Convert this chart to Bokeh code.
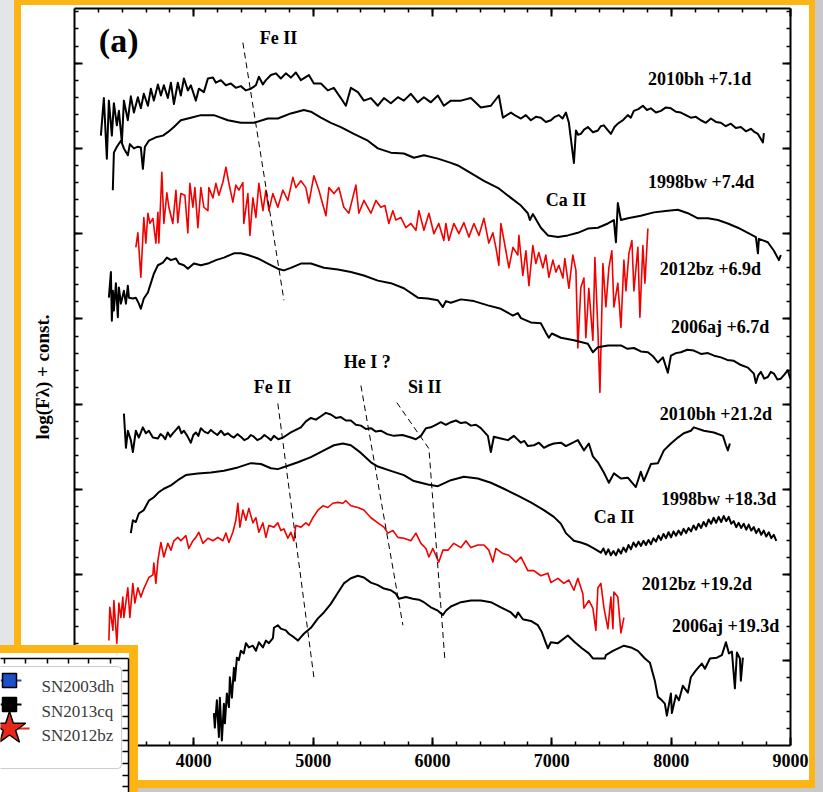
import math

from bokeh.core.properties import value
from bokeh.embed import file_html
from bokeh.models import (BoxAnnotation, CustomJSTickFormatter, FixedTicker, LinearAxis,
                          Range1d)
from bokeh.plotting import figure
from bokeh.resources import INLINE

# ---------------------------------------------------------------------------
# Spectra: (wavelength [A], log F_lambda + offset)
# ---------------------------------------------------------------------------
sn2010bh_p7 = [
    (3221, 7.15), (3246, 7.59), (3271, 6.88), (3288, 7.56), (3313, 7.15), (3330, 7.53),
    (3355, 7.27), (3372, 7.44), (3397, 7.07), (3414, 7.56), (3447, 7.33), (3472, 7.61),
    (3498, 7.42), (3531, 7.60), (3556, 7.47), (3581, 7.64), (3615, 7.50), (3640, 7.70),
    (3665, 7.56), (3699, 7.75), (3724, 7.62), (3749, 7.74), (3782, 7.59), (3808, 7.77),
    (3833, 7.52), (3866, 7.77), (3891, 7.62), (3917, 7.82), (3950, 7.68), (3975, 7.74),
    (4017, 7.56), (4042, 7.70), (4084, 7.66), (4118, 7.82), (4160, 7.83), (4185, 7.77),
    (4227, 7.80), (4268, 7.74), (4310, 7.76), (4352, 7.71), (4394, 7.73), (4436, 7.68),
    (4478, 7.70), (4520, 7.74), (4545, 7.84), (4579, 7.75), (4604, 7.80), (4646, 7.86),
    (4688, 7.88), (4729, 7.82), (4771, 7.88), (4813, 7.83), (4855, 7.89), (4897, 7.80),
    (4964, 7.86), (5006, 7.76), (5065, 7.76), (5123, 7.68), (5173, 7.71), (5232, 7.59),
    (5274, 7.50), (5316, 7.71), (5375, 7.66), (5425, 7.56), (5484, 7.59), (5542, 7.50),
    (5593, 7.59), (5651, 7.53), (5710, 7.60), (5760, 7.56), (5819, 7.64), (5877, 7.54),
    (5928, 7.60), (5986, 7.54), (6045, 7.62), (6095, 7.50), (6154, 7.56), (6238, 7.56),
    (6322, 7.59), (6405, 7.48), (6489, 7.50), (6556, 7.62), (6590, 7.36), (6657, 7.42),
    (6700, 7.38), (6741, 7.35), (6782, 7.39), (6824, 7.33), (6866, 7.37), (6908, 7.36),
    (6950, 7.31), (6992, 7.33), (7025, 7.37), (7059, 7.39), (7090, 7.35), (7118, 7.42),
    (7143, 7.30), (7185, 6.83), (7202, 7.21), (7220, 7.16), (7243, 7.17), (7270, 7.22),
    (7302, 7.25), (7345, 7.19), (7386, 7.21), (7410, 7.26), (7436, 7.27), (7465, 7.22),
    (7495, 7.17), (7525, 7.25), (7553, 7.29), (7595, 7.33), (7637, 7.39), (7662, 7.36),
    (7687, 7.44), (7725, 7.46), (7763, 7.50), (7797, 7.45), (7830, 7.47), (7872, 7.42),
    (7914, 7.44), (7956, 7.48), (7998, 7.47), (8040, 7.43), (8081, 7.42), (8123, 7.39),
    (8165, 7.36), (8207, 7.37), (8249, 7.33), (8291, 7.30), (8333, 7.35), (8375, 7.31),
    (8417, 7.30), (8458, 7.26), (8500, 7.29), (8542, 7.24), (8584, 7.25), (8626, 7.20),
    (8668, 7.23), (8700, 7.19), (8727, 7.17), (8769, 7.07), (8777, 7.18),
]

sn1998bw_p7 = [
    (3321, 6.51), (3330, 6.95), (3355, 7.02), (3389, 7.09), (3414, 7.00), (3447, 6.92),
    (3464, 7.05), (3498, 7.00), (3531, 7.02), (3556, 7.01), (3573, 6.76), (3590, 7.02),
    (3623, 7.09), (3682, 7.13), (3741, 7.15), (3782, 7.19), (3833, 7.25), (3891, 7.33),
    (3975, 7.36), (4059, 7.39), (4168, 7.39), (4285, 7.33), (4394, 7.30), (4503, 7.30),
    (4620, 7.35), (4704, 7.35), (4813, 7.41), (4922, 7.45), (4981, 7.43), (5065, 7.36),
    (5148, 7.30), (5232, 7.25), (5341, 7.17), (5458, 7.09), (5542, 7.00), (5651, 6.95),
    (5760, 6.94), (5844, 6.89), (5928, 6.92), (6045, 6.88), (6154, 6.83), (6213, 6.80),
    (6322, 6.71), (6431, 6.62), (6556, 6.53), (6657, 6.42), (6741, 6.33), (6799, 6.24),
    (6816, 6.16), (6841, 6.23), (6908, 6.07), (6967, 5.98), (7051, 5.96), (7134, 5.98),
    (7218, 6.01), (7302, 6.06), (7386, 6.07), (7470, 6.12), (7520, 6.16), (7537, 5.90),
    (7553, 6.36), (7579, 6.16), (7637, 6.18), (7746, 6.21), (7855, 6.25), (7972, 6.27),
    (8056, 6.28), (8140, 6.24), (8224, 6.18), (8308, 6.18), (8392, 6.16), (8475, 6.12),
    (8559, 6.07), (8643, 6.01), (8710, 5.96), (8727, 5.77), (8735, 5.94), (8810, 5.90),
    (8861, 5.80), (8903, 5.69), (8919, 5.75),
]

sn2012bz_p7 = [
    (3514, 5.84), (3531, 6.01), (3556, 5.49), (3581, 6.19), (3598, 5.89), (3615, 6.24),
    (3632, 6.12), (3657, 6.18), (3682, 5.89), (3699, 6.25), (3707, 5.89), (3732, 6.72),
    (3749, 6.12), (3774, 6.48), (3791, 6.31), (3824, 6.12), (3850, 6.51), (3866, 6.13),
    (3891, 6.47), (3925, 6.45), (3950, 6.01), (3967, 6.59), (3992, 6.31), (4009, 6.54),
    (4034, 6.07), (4059, 6.54), (4084, 6.31), (4118, 6.27), (4126, 6.54), (4160, 6.42),
    (4185, 6.59), (4210, 6.45), (4243, 6.60), (4269, 6.78), (4294, 6.59), (4327, 6.37),
    (4352, 6.57), (4377, 6.51), (4411, 6.60), (4419, 6.12), (4453, 6.47), (4470, 5.98),
    (4495, 6.42), (4520, 6.19), (4545, 6.59), (4579, 6.27), (4604, 6.51), (4629, 6.27),
    (4662, 6.47), (4704, 6.31), (4746, 6.51), (4788, 6.39), (4830, 6.66), (4855, 6.54),
    (4897, 6.62), (4939, 6.54), (4964, 6.36), (5006, 6.68), (5048, 6.51), (5107, 6.21),
    (5132, 6.54), (5174, 6.47), (5215, 6.54), (5257, 6.31), (5299, 6.24), (5358, 6.57),
    (5383, 6.24), (5425, 6.39), (5484, 6.24), (5526, 6.39), (5567, 6.31), (5601, 6.33),
    (5634, 6.12), (5668, 6.27), (5693, 6.16), (5735, 6.19), (5777, 6.07), (5819, 6.12),
    (5861, 6.04), (5886, 6.27), (5928, 6.04), (5970, 6.24), (6012, 6.00), (6053, 6.12),
    (6095, 5.92), (6112, 6.12), (6137, 5.92), (6179, 6.12), (6221, 6.00), (6263, 6.13),
    (6305, 5.96), (6347, 6.12), (6389, 5.98), (6431, 6.18), (6472, 5.89), (6506, 6.01),
    (6531, 5.84), (6556, 5.63), (6573, 6.12), (6615, 5.80), (6640, 5.60), (6674, 5.84),
    (6715, 5.75), (6724, 5.98), (6757, 5.51), (6783, 5.80), (6808, 5.39), (6841, 5.86),
    (6866, 5.65), (6891, 5.78), (6925, 5.60), (6950, 5.75), (6975, 5.49), (7009, 5.69),
    (7034, 5.55), (7059, 5.63), (7093, 5.48), (7109, 5.71), (7143, 5.36), (7176, 5.75),
    (7202, 5.57), (7218, 4.66), (7243, 5.37), (7269, 5.48), (7285, 4.78), (7310, 5.36),
    (7344, 4.75), (7361, 5.72), (7386, 4.87), (7403, 4.14), (7428, 5.65), (7453, 5.14),
    (7478, 5.60), (7503, 5.80), (7520, 5.14), (7553, 5.42), (7579, 4.90), (7604, 5.69),
    (7621, 5.33), (7646, 5.77), (7671, 5.92), (7688, 5.33), (7721, 5.84), (7738, 5.02),
    (7763, 5.86), (7780, 5.42), (7805, 6.06),
]

sn2006aj_p7 = [
    (3288, 5.25), (3305, 5.55), (3313, 4.98), (3322, 5.33), (3330, 5.10), (3347, 5.42),
    (3363, 5.02), (3372, 5.37), (3389, 5.18), (3414, 5.33), (3431, 5.18), (3447, 5.39),
    (3456, 5.25), (3489, 5.24), (3514, 5.25), (3539, 5.18), (3556, 5.12), (3581, 5.24),
    (3615, 5.31), (3640, 5.42), (3665, 5.53), (3699, 5.63), (3741, 5.66), (3774, 5.72),
    (3808, 5.69), (3850, 5.71), (3875, 5.65), (3917, 5.63), (3950, 5.59), (4000, 5.65),
    (4059, 5.63), (4118, 5.65), (4185, 5.69), (4252, 5.72), (4336, 5.77), (4394, 5.77),
    (4453, 5.75), (4537, 5.71), (4620, 5.65), (4704, 5.59), (4755, 5.57), (4813, 5.60),
    (4897, 5.65), (4981, 5.65), (5090, 5.60), (5207, 5.58), (5316, 5.55), (5425, 5.51),
    (5542, 5.45), (5651, 5.42), (5760, 5.36), (5877, 5.25), (5961, 5.24), (6045, 5.22),
    (6087, 5.14), (6112, 5.21), (6154, 5.19), (6238, 5.23), (6347, 5.21), (6464, 5.16),
    (6573, 5.12), (6674, 5.04), (6715, 5.07), (6741, 5.01), (6824, 4.96), (6908, 4.95),
    (6950, 4.84), (6975, 4.78), (7000, 4.83), (7076, 4.78), (7185, 4.75), (7302, 4.71),
    (7344, 4.61), (7386, 4.67), (7470, 4.69), (7579, 4.69), (7634, 4.65), (7688, 4.66),
    (7746, 4.62), (7805, 4.61), (7850, 4.56), (7889, 4.49), (7931, 4.55), (7972, 4.37),
    (7998, 4.57), (8040, 4.60), (8081, 4.61), (8135, 4.64), (8190, 4.63), (8250, 4.59),
    (8308, 4.60), (8360, 4.57), (8417, 4.55), (8470, 4.52), (8525, 4.51), (8585, 4.46),
    (8643, 4.43), (8693, 4.36), (8710, 4.25), (8730, 4.34), (8752, 4.38), (8780, 4.30),
    (8810, 4.32), (8835, 4.38), (8861, 4.36), (8890, 4.29), (8919, 4.30), (8950, 4.35),
    (8978, 4.40), (8998, 4.30),
]

sn2010bh_p21 = [
    (3414, 3.89), (3431, 3.49), (3447, 3.69), (3472, 3.58), (3489, 3.44), (3514, 3.69),
    (3539, 3.61), (3573, 3.73), (3598, 3.66), (3623, 3.69), (3657, 3.61), (3699, 3.60),
    (3720, 3.65), (3741, 3.63), (3760, 3.59), (3782, 3.67), (3803, 3.62), (3824, 3.66),
    (3850, 3.70), (3875, 3.74), (3896, 3.66), (3917, 3.69), (3945, 3.63), (3975, 3.55),
    (3996, 3.64), (4017, 3.67), (4038, 3.63), (4059, 3.72), (4088, 3.68), (4118, 3.66),
    (4143, 3.70), (4168, 3.67), (4197, 3.64), (4227, 3.69), (4256, 3.64), (4285, 3.66),
    (4310, 3.63), (4336, 3.61), (4365, 3.65), (4394, 3.62), (4423, 3.58), (4453, 3.60),
    (4478, 3.64), (4503, 3.62), (4532, 3.58), (4562, 3.60), (4591, 3.64), (4620, 3.61),
    (4646, 3.58), (4671, 3.63), (4708, 3.59), (4746, 3.61), (4780, 3.64), (4813, 3.67),
    (4855, 3.70), (4897, 3.73), (4939, 3.80), (4981, 3.84), (5023, 3.82), (5065, 3.86),
    (5106, 3.90), (5148, 3.88), (5190, 3.84), (5232, 3.85), (5274, 3.81), (5316, 3.81),
    (5358, 3.76), (5400, 3.75), (5442, 3.71), (5484, 3.72), (5525, 3.68), (5567, 3.69),
    (5620, 3.65), (5676, 3.63), (5748, 3.64), (5819, 3.61), (5860, 3.59), (5903, 3.63),
    (5945, 3.72), (5986, 3.73), (6028, 3.76), (6070, 3.79), (6112, 3.76), (6154, 3.79),
    (6196, 3.81), (6238, 3.78), (6280, 3.79), (6322, 3.75), (6364, 3.76), (6405, 3.72),
    (6464, 3.63), (6489, 3.44), (6514, 3.62), (6573, 3.60), (6632, 3.58), (6682, 3.63),
    (6741, 3.55), (6770, 3.57), (6799, 3.51), (6850, 3.52), (6892, 3.55), (6934, 3.49),
    (6975, 3.52), (7017, 3.54), (7076, 3.55), (7118, 3.51), (7160, 3.54), (7218, 3.58),
    (7269, 3.46), (7310, 3.54), (7344, 3.39), (7386, 3.32), (7436, 3.20), (7478, 3.08),
    (7520, 3.19), (7579, 3.13), (7637, 3.14), (7704, 3.03), (7746, 3.21), (7771, 3.10),
    (7830, 3.30), (7889, 3.31), (7939, 3.46), (7998, 3.54), (8056, 3.61), (8106, 3.66),
    (8165, 3.69), (8190, 3.73), (8274, 3.69), (8358, 3.67), (8434, 3.63), (8459, 3.52),
    (8475, 3.46), (8492, 3.54),
]

sn1998bw_p18 = [
    (3472, 2.49), (3489, 2.64), (3514, 2.62), (3539, 2.72), (3581, 2.76), (3623, 2.87),
    (3665, 2.91), (3707, 2.97), (3749, 3.01), (3808, 3.05), (3866, 3.11), (3933, 3.17),
    (4034, 3.19), (4143, 3.20), (4252, 3.22), (4369, 3.26), (4478, 3.31), (4562, 3.30),
    (4646, 3.25), (4704, 3.24), (4788, 3.28), (4872, 3.32), (4981, 3.38), (5090, 3.46),
    (5174, 3.52), (5249, 3.54), (5316, 3.52), (5400, 3.43), (5484, 3.32), (5542, 3.27),
    (5651, 3.22), (5760, 3.17), (5844, 3.10), (5961, 3.06), (6045, 3.04), (6154, 3.11),
    (6263, 3.15), (6380, 3.13), (6489, 3.08), (6598, 3.01), (6715, 2.93), (6824, 2.85),
    (6933, 2.76), (7017, 2.68), (7076, 2.60), (7118, 2.49), (7185, 2.40), (7243, 2.38),
    (7302, 2.35), (7352, 2.31),
    (7411, 2.26), (7432, 2.31), (7453, 2.24), (7474, 2.30), (7495, 2.23), (7516, 2.28),
    (7537, 2.23), (7558, 2.30), (7579, 2.25), (7600, 2.32), (7621, 2.27), (7642, 2.35),
    (7663, 2.30), (7684, 2.38), (7705, 2.33), (7726, 2.39), (7747, 2.34), (7768, 2.40),
    (7789, 2.35), (7810, 2.41), (7831, 2.36), (7852, 2.43), (7873, 2.39), (7894, 2.46),
    (7915, 2.41), (7936, 2.48), (7957, 2.43), (7978, 2.50), (7999, 2.44), (8020, 2.51),
    (8041, 2.46), (8062, 2.52), (8083, 2.47), (8104, 2.54), (8125, 2.49), (8146, 2.55),
    (8167, 2.51), (8188, 2.58), (8209, 2.53), (8230, 2.60), (8251, 2.55), (8272, 2.62),
    (8293, 2.57), (8314, 2.65), (8335, 2.60), (8356, 2.67), (8377, 2.61), (8398, 2.68),
    (8419, 2.62), (8440, 2.69), (8461, 2.63), (8482, 2.68), (8503, 2.60), (8524, 2.63),
    (8545, 2.56), (8566, 2.61), (8587, 2.55), (8608, 2.60), (8629, 2.53), (8650, 2.59),
    (8671, 2.52), (8692, 2.56), (8713, 2.49), (8734, 2.54), (8755, 2.47), (8776, 2.52),
    (8797, 2.45), (8818, 2.50), (8839, 2.43), (8860, 2.47), (8881, 2.40),
]

sn2012bz_p19 = [
    (3288, 1.23), (3296, 1.62), (3322, 1.35), (3330, 1.70), (3355, 1.20), (3372, 1.67),
    (3389, 1.50), (3405, 1.74), (3414, 1.50), (3447, 1.85), (3464, 1.50), (3489, 1.90),
    (3506, 1.67), (3531, 1.85), (3556, 1.74), (3581, 1.84), (3623, 1.97), (3657, 2.00),
    (3665, 2.14), (3682, 1.90), (3699, 2.17), (3724, 2.38), (3749, 2.21), (3782, 2.37),
    (3808, 2.29), (3833, 2.40), (3866, 2.44), (3891, 2.40), (3933, 2.46), (3958, 2.31),
    (3992, 2.40), (4017, 2.44), (4042, 2.50), (4076, 2.37), (4118, 2.43), (4160, 2.40),
    (4201, 2.44), (4243, 2.40), (4269, 2.49), (4294, 2.38), (4327, 2.50), (4352, 2.64),
    (4369, 2.84), (4386, 2.56), (4411, 2.76), (4436, 2.64), (4461, 2.78), (4495, 2.61),
    (4520, 2.67), (4545, 2.50), (4579, 2.61), (4604, 2.44), (4629, 2.58), (4671, 2.56),
    (4704, 2.61), (4729, 2.52), (4755, 2.54), (4788, 2.43), (4813, 2.50), (4838, 2.40),
    (4855, 2.58), (4897, 2.56), (4939, 2.61), (4964, 2.58), (4998, 2.67), (5040, 2.76),
    (5082, 2.81), (5123, 2.79), (5165, 2.84), (5207, 2.85), (5249, 2.84), (5274, 2.87),
    (5316, 2.81), (5375, 2.79), (5425, 2.76), (5484, 2.67), (5542, 2.61), (5593, 2.56),
    (5626, 2.49), (5668, 2.52), (5710, 2.44), (5760, 2.43), (5819, 2.40), (5861, 2.49),
    (5903, 2.37), (5945, 2.31), (5970, 2.21), (6003, 2.31), (6053, 2.15), (6087, 2.29),
    (6129, 2.29), (6179, 2.37), (6238, 2.32), (6280, 2.40), (6322, 2.32), (6380, 2.35),
    (6431, 2.35), (6472, 2.29), (6506, 2.15), (6531, 2.31), (6590, 2.25), (6640, 2.23),
    (6699, 2.15), (6741, 2.21), (6799, 2.05), (6850, 2.05), (6908, 1.99), (6967, 2.02),
    (6992, 1.91), (7051, 1.96), (7101, 1.90), (7143, 1.94), (7185, 1.82), (7218, 1.96),
    (7260, 1.78), (7269, 1.61), (7310, 1.70), (7344, 1.61), (7369, 1.35), (7386, 1.85),
    (7411, 1.90), (7436, 1.62), (7470, 1.37), (7495, 1.74), (7512, 1.37), (7520, 1.80),
    (7553, 1.74), (7579, 1.32), (7604, 1.50),
]

sn2006aj_p19 = [
    (4168, 0.38), (4176, 0.21), (4193, 0.53), (4210, 0.10), (4218, 0.56), (4235, 0.06),
    (4252, 0.49), (4260, 0.26), (4277, 0.61), (4294, 0.45), (4302, 0.80), (4319, 0.56),
    (4336, 0.91), (4344, 0.76), (4361, 1.03), (4377, 1.00), (4394, 1.11), (4419, 1.08),
    (4436, 1.20), (4461, 1.15), (4495, 1.17), (4520, 1.11), (4545, 1.21), (4579, 1.15),
    (4604, 1.23), (4629, 1.20), (4663, 1.26), (4671, 1.38), (4704, 1.41), (4729, 1.37),
    (4771, 1.35), (4796, 1.31), (4838, 1.27), (4872, 1.23), (4897, 1.27), (4922, 1.31),
    (4981, 1.38), (5040, 1.49), (5090, 1.56), (5148, 1.66), (5207, 1.79), (5257, 1.90),
    (5316, 1.96), (5375, 1.99), (5425, 1.97), (5484, 1.91), (5542, 1.88), (5593, 1.84),
    (5651, 1.82), (5693, 1.78), (5718, 1.72), (5777, 1.74), (5835, 1.72), (5886, 1.71),
    (5928, 1.68), (5986, 1.62), (6045, 1.58), (6087, 1.53), (6112, 1.58), (6154, 1.63),
    (6238, 1.68), (6322, 1.70), (6405, 1.70), (6489, 1.68), (6573, 1.62), (6657, 1.56),
    (6699, 1.50), (6716, 1.56), (6757, 1.48), (6824, 1.46), (6883, 1.41), (6916, 1.33),
    (6950, 1.20), (6967, 1.14), (6992, 1.21), (7051, 1.20), (7134, 1.29), (7193, 1.21),
    (7252, 1.14), (7310, 1.08), (7344, 1.02), (7445, 1.02), (7453, 1.06), (7512, 1.11),
    (7604, 1.17), (7663, 1.15), (7721, 1.11), (7780, 1.02), (7822, 0.97), (7863, 0.76),
    (7889, 0.57), (7922, 0.53), (7947, 0.49), (7964, 0.35), (7998, 0.61), (8006, 0.38),
    (8040, 0.59), (8065, 0.53), (8098, 0.70), (8140, 0.62), (8165, 0.80), (8207, 0.88),
    (8257, 0.96), (8283, 0.90), (8325, 1.02), (8383, 1.03), (8425, 1.06), (8459, 1.21),
    (8484, 1.08), (8509, 1.10), (8534, 0.67), (8551, 1.09), (8576, 1.02), (8584, 0.76),
    (8601, 1.03),
]

# line identifications (dashed guides): wavelengths and offset fluxes
feii_early = [(4411, 8.24), (4755, 5.22)]
feii_late = [(4704, 4.01), (5006, 0.80)]
hei_late = [(5400, 4.22), (5752, 1.41)]
siii_late = [(5701, 4.02), (5970, 3.48), (6104, 1.00)]

# spectrum labels: (wavelength, offset flux, text)
spectrum_labels = [
    (7805, 7.81, "2010bh +7.1d"),
    (7805, 6.61, "1998bw +7.4d"),
    (7905, 5.59, "2012bz +6.9d"),
    (7998, 4.91, "2006aj +6.7d"),
    (7905, 3.89, "2010bh +21.2d"),
    (7914, 2.89, "1998bw +18.3d"),
    (7754, 1.89, "2012bz +19.2d"),
    (8006, 1.40, "2006aj +19.3d"),
]
ion_labels = [
    (4553, 8.30, "Fe II"),
    (6950, 6.40, "Ca II"),
    (5257, 4.49, "He I ?"),
    (4503, 4.20, "Fe II"),
    (5794, 4.20, "Si II"),
    (7352, 2.68, "Ca II"),
]
panel_tag = (3204, 8.27, "(a)")

x_major = [4000, 5000, 6000, 7000, 8000, 9000]

# inset legend entries (corner of a neighbouring panel)
inset_names = ["SN2003dh", "SN2013cq", "SN2012bz"]
inset_markers = ["square", "square", "star"]
inset_colors = ["#1f4fc8", "black", "#e8261a"]

SERIF = "Liberation Serif"
ORANGE = "#FDB415"
RED = "#f20000"

W, H = 823, 792
p = figure(width=W, height=H, output_backend="svg", toolbar_location=None,
           x_range=Range1d(3000, 9000), y_range=Range1d(0, 8.64),
           min_border_left=74, min_border_right=33, min_border_top=8, min_border_bottom=47)
p.background_fill_color = "white"
p.border_fill_color = None
p.outline_line_color = None
p.xgrid.visible = False
p.ygrid.visible = False
# slide backdrop: grey page, golden frame, white card
p.styles = {
    "background": (
        "linear-gradient(#ffffff,#ffffff) 21px 5px / 788px 775px no-repeat, "
        f"linear-gradient({ORANGE},{ORANGE}) 14px 0px / 801px 788px no-repeat, "
        "linear-gradient(#e4e5e8,#e4e5e8) 0px 0px / 14px 100% no-repeat, "
        "#c9c9cb"
    ),
}

blank = CustomJSTickFormatter(code="return ''")
x_ticker = FixedTicker(ticks=x_major, minor_ticks=list(range(3200, 9000, 200)))
y_ticker = FixedTicker(ticks=list(range(1, 9)),
                       minor_ticks=[i / 5 for i in range(1, 44)])


def style_axis(ax, major=8, minor=4, width=2):
    ax.axis_line_width = width
    ax.major_tick_in = major
    ax.major_tick_out = 0
    ax.minor_tick_in = minor
    ax.minor_tick_out = 0
    ax.major_tick_line_width = width
    ax.minor_tick_line_width = width * 0.75


xb = p.xaxis[0]
xb.ticker = x_ticker
style_axis(xb)
xb.major_label_text_font = SERIF
xb.major_label_text_font_style = "bold"
xb.major_label_text_font_size = "18px"
xb.major_label_text_color = "black"
xb.major_label_standoff = 8

yl = p.yaxis[0]
yl.ticker = y_ticker
yl.formatter = blank
yl.major_label_standoff = 0
style_axis(yl)
yl.axis_label = "log(F\u03bb) + const."
yl.axis_label_text_font = SERIF
yl.axis_label_text_font_style = "bold"
yl.axis_label_text_font_size = "19px"
yl.axis_label_text_color = "black"
yl.axis_label_standoff = 22

xt = LinearAxis(ticker=x_ticker, formatter=blank, major_label_standoff=0)
style_axis(xt)
p.add_layout(xt, "above")
yr = LinearAxis(ticker=y_ticker, formatter=blank, major_label_standoff=0)
style_axis(yr)
p.add_layout(yr, "right")

# spectra
for spec, color, lw in [
    (sn2010bh_p7, "black", 2), (sn1998bw_p7, "black", 2), (sn2012bz_p7, RED, 1.6),
    (sn2006aj_p7, "black", 2), (sn2010bh_p21, "black", 2), (sn1998bw_p18, "black", 2),
    (sn2012bz_p19, RED, 1.6), (sn2006aj_p19, "black", 2),
]:
    p.line([w for w, _ in spec], [f for _, f in spec], line_color=color, line_width=lw,
           line_join="round")

# dashed line-identification guides
for guide in (feii_early, feii_late, hei_late, siii_late):
    p.line([w for w, _ in guide], [f for _, f in guide], line_color="black",
           line_width=1, line_dash="6 4")

text_kw = dict(text_font=value(SERIF), text_font_style="bold", text_font_size="18px",
               text_color="black", text_align="left", text_baseline="alphabetic")
p.text([w for w, _, _ in spectrum_labels], [f for _, f, _ in spectrum_labels],
       text=[t for _, _, t in spectrum_labels], **text_kw)
p.text([w for w, _, _ in ion_labels], [f for _, f, _ in ion_labels],
       text=[t for _, _, t in ion_labels], **text_kw)
p.text([panel_tag[0]], [panel_tag[1]], text=[panel_tag[2]], text_font=value(SERIF),
       text_font_style="bold", text_font_size="34px", text_color="black",
       text_align="left", text_baseline="alphabetic")

# ---------------------------------------------------------------------------
# inset: corner of a neighbouring light-curve panel with its legend
# ---------------------------------------------------------------------------
q = figure(width=138, height=147, output_backend="svg", toolbar_location=None,
           x_range=Range1d(0, 128), y_range=Range1d(134, 0),
           x_axis_location="above", y_axis_location="right",
           min_border_left=0, min_border_right=10, min_border_top=13, min_border_bottom=0)
q.background_fill_color = "white"
q.border_fill_color = None
q.outline_line_color = None
q.xgrid.visible = False
q.ygrid.visible = False
q.styles = {
    "position": "absolute",
    "left": "0px",
    "top": "645px",
    "z-index": "10",
    "background": (
        "linear-gradient(#ffffff,#ffffff) 0px 8px / 129px 139px no-repeat, "
        f"{ORANGE}"
    ),
}
qx = q.xaxis[0]
qx.ticker = FixedTicker(ticks=[4, 25, 47, 68, 88, 110], minor_ticks=[])
qx.formatter = blank
qx.major_label_standoff = 0
style_axis(qx, major=5, minor=0, width=1.5)
qy = q.yaxis[0]
qy.ticker = FixedTicker(ticks=[11.67 * k for k in range(1, 12)], minor_ticks=[])
qy.formatter = blank
qy.major_label_standoff = 0
style_axis(qy, major=6, minor=0, width=1.5)

q.add_layout(BoxAnnotation(left=-6, right=121, top=8, bottom=110,
                           fill_color="white", fill_alpha=1.0, line_color="#555555",
                           line_width=1, border_radius=4, editable=False, level="underlay"))
row_y = [22, 46, 70]
stub_end = [21, 21, 29]
for yy, x_end, col in zip(row_y, stub_end, inset_colors):
    q.line([0, x_end], [yy, yy], line_color=col, line_width=2.2)
q.scatter([9, 9, 9], row_y, marker=inset_markers, size=[14, 14, 34],
          fill_color=inset_colors, line_color="black", line_width=1.5)
q.text([41, 41, 41], [28, 53, 77], text=inset_names, text_font=value(SERIF),
       text_font_size="17px", text_color="#3a3a3a", text_align="left",
       text_baseline="alphabetic")

# two independent roots: the slide plot and the inset laid over its corner
open("out.html", "w").write(file_html([p, q], INLINE))
